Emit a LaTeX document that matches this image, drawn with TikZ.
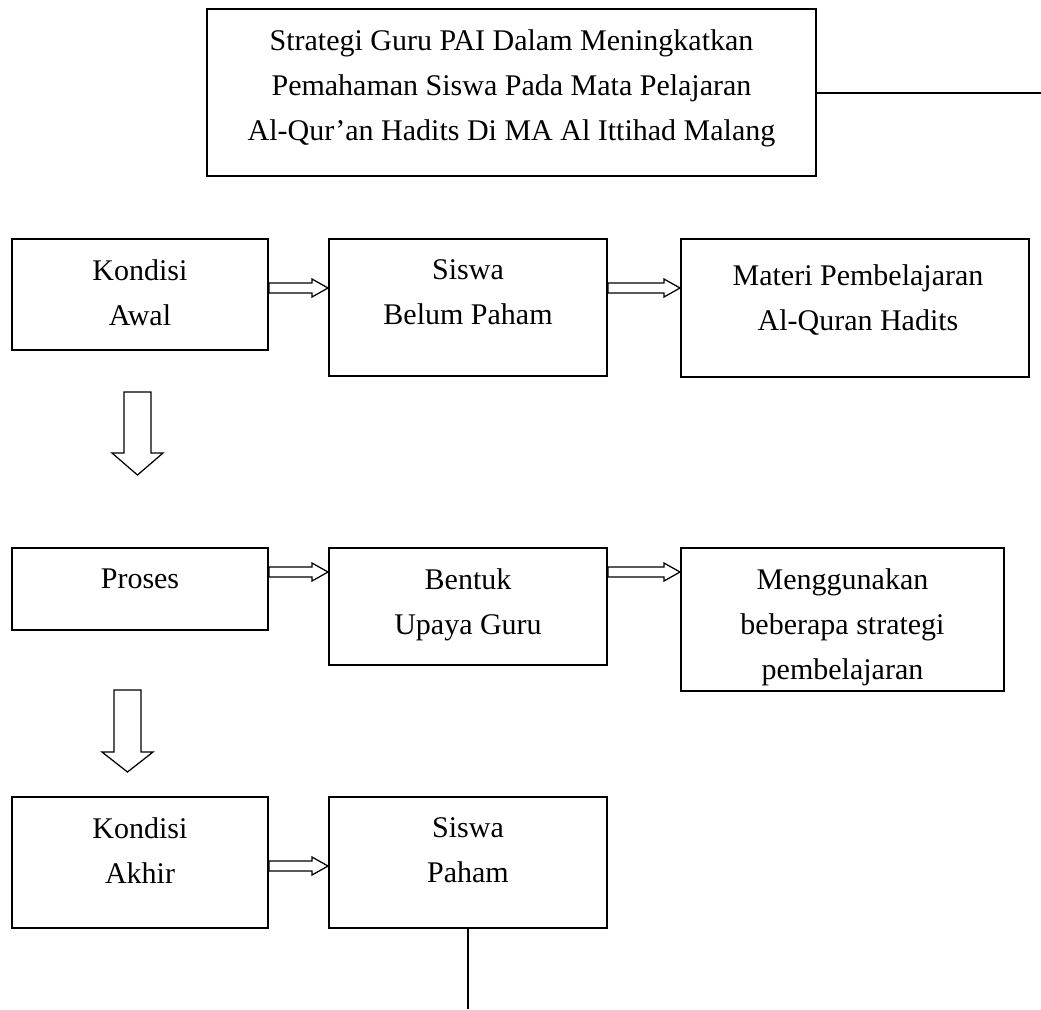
\documentclass[tikz,border=0pt]{standalone}
\usepackage{fontspec}
\setmainfont{Liberation Serif}
\usetikzlibrary{calc,fit}

% outlined arrow from the east side of #1 to the west side of #2, at height #3
\newcommand{\hollowright}[3]{%
 \draw[arrowline] let \p1=(#1.east), \p2=(#2.west), \p3=(0,#3) in
  (\x1,\y3+2pt) -- (\x2-6.4pt,\y3+2pt) -- (\x2-6.4pt,\y3+3.6pt) -- (\x2,\y3)
  -- (\x2-6.4pt,\y3-3.6pt) -- (\x2-6.4pt,\y3-2pt) -- (\x1,\y3-2pt) -- cycle;}
% outlined downward arrow: centre x, top, head base, tip
\newcommand{\hollowdown}[4]{%
 \draw[arrowline] ({#1-13.5},#2) -- ({#1+13.5},#2) -- ({#1+13.5},#3) -- ({#1+25.5},#3)
  -- (#1,#4) -- ({#1-25.5},#3) -- ({#1-13.5},#3) -- cycle;}

\begin{document}
\begin{tikzpicture}[x=0.4pt,y=-0.4pt]
 \tikzstyle{box} = [draw=black,line width=0.8pt,inner sep=0pt];
 \tikzstyle{txt} = [anchor=north,inner sep=0pt,align=center,font=\fontsize{12}{18}\selectfont];
 \tikzstyle{arrowline} = [draw=black,line width=0.5pt,line join=miter];
 \tikzstyle{conn} = [draw=black,line width=0.8pt];

 \useasboundingbox (0,0) rectangle (1041,1009);

 % judul
 \node[box,name=judul,fit={(207,9) (816,176)}] {};
 \node[txt,name=judulT] at ($(judul.north)+(0,21)$)
                                        {Strategi Guru PAI Dalam Meningkatkan\\
                                         Pemahaman Siswa Pada Mata Pelajaran\\
                                         Al-Qur’an Hadits Di MA Al Ittihad Malang};

 % kondisi awal
 \node[box,name=kawal,fit={(12,239) (268,350)}] {};
 \node[box,name=sbelum,fit={(329,239) (607,376)}] {};
 \node[box,name=materi,fit={(681,239) (1029,377)}] {};
 \node[txt,name=kawalT] at ($(kawal.north)+(0,21)$) {Kondisi\\Awal};
 \node[txt,name=sbelumT] at ($(sbelum.north)+(0,21)$) {Siswa\\Belum Paham};
 \node[txt,name=materiT] at ($(materi.north)+(3,26)$) {Materi Pembelajaran\\Al-Quran Hadits};

 % proses
 \node[box,name=proses,fit={(12,548) (268,630)}] {};
 \node[box,name=upaya,fit={(329,548) (607,665)}] {};
 \node[box,name=strategi,fit={(681,548) (1004,691)}] {};
 \node[txt,name=prosesT] at ($(proses.north)+(0,21)$) {Proses};
 \node[txt,name=upayaT] at ($(upaya.north)+(0,21)$) {Bentuk\\Upaya Guru};
 \node[txt,name=strategiT] at ($(strategi.north)+(0,21)$) {Menggunakan\\beberapa strategi\\pembelajaran};

 % kondisi akhir
 \node[box,name=kakhir,fit={(12,797) (268,928)}] {};
 \node[box,name=spaham,fit={(329,797) (607,928)}] {};
 \node[txt,name=kakhirT] at ($(kakhir.north)+(0,21)$) {Kondisi\\Akhir};
 \node[txt,name=spahamT] at ($(spaham.north)+(0,21)$) {Siswa\\Paham};

 \hollowright{kawal}{sbelum}{288};
 \hollowright{sbelum}{materi}{288};
 \hollowright{proses}{upaya}{572};
 \hollowright{upaya}{strategi}{572};
 \hollowright{kakhir}{spaham}{866};

 \hollowdown{137.5}{392}{453}{475};
 \hollowdown{127.5}{690}{752}{772};

 \coordinate (judulEnd) at (1041,92.5);
 \coordinate (pahamEnd) at (468,1009);
 \path (judul.east) edge [conn] (judulEnd);
 \path (spaham.south) edge [conn] (pahamEnd);
\end{tikzpicture}
\end{document}
